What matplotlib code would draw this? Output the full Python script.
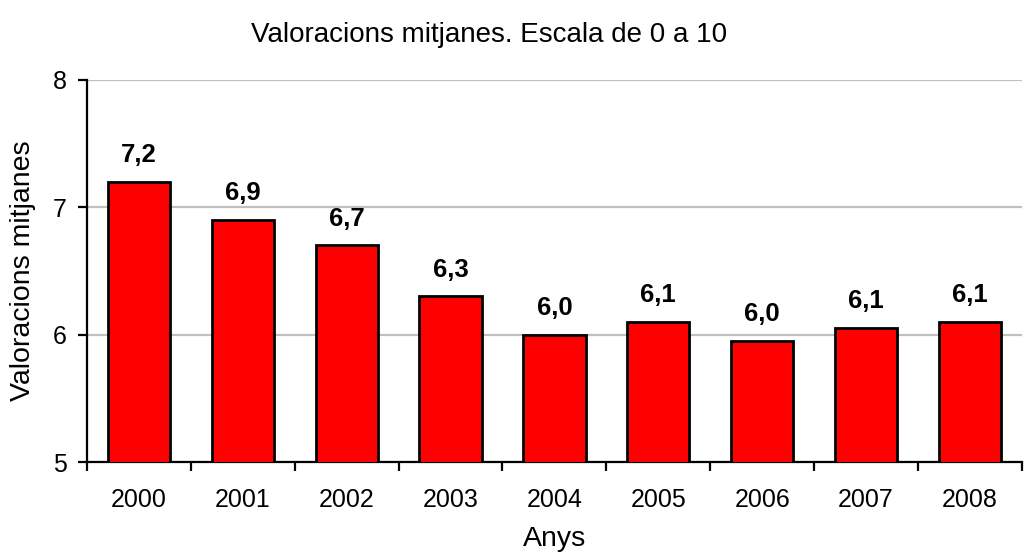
import matplotlib
matplotlib.use("Agg")
import numpy as np
from matplotlib import pyplot as plt

years = ["2000", "2001", "2002", "2003", "2004", "2005", "2006", "2007", "2008"]
values = [7.2, 6.9, 6.7, 6.3, 6.0, 6.1, 5.95, 6.05, 6.1]
labels = ["7,2", "6,9", "6,7", "6,3", "6,0", "6,1", "6,0", "6,1", "6,1"]

plt.rcParams["font.family"] = ["Liberation Sans", "DejaVu Sans"]

fig = plt.figure(figsize=(10.27, 5.58), dpi=100)
ax = fig.add_axes([0.0847, 0.172, 0.9103, 0.685])

x = np.arange(len(years))
ax.bar(x, values, width=0.6, color="#ff0000", edgecolor="black",
       linewidth=2, zorder=3)

for xi, v, lab in zip(x, values, labels):
    ax.text(xi, v + 0.155, lab, ha="center", va="baseline", fontsize=18.5,
            fontweight="bold")

ax.set_ylim(5, 8)
ax.set_xlim(-0.5, len(years) - 0.5)
ax.set_yticks([5, 6, 7, 8])
ax.yaxis.grid(True, color="#c0c0c0", linewidth=1.6, zorder=0)
ax.set_axisbelow(True)

ax.set_xticks(x)
ax.set_xticklabels(years, fontsize=18)
ax.tick_params(axis="x", which="major", length=0, pad=19)
ax.set_xticks(np.arange(len(years) + 1) - 0.5, minor=True)
ax.tick_params(axis="x", which="minor", length=6.5, width=1.6, direction="out")
ax.tick_params(axis="y", labelsize=18, length=6.5, width=1.6, pad=8)

for side in ["top", "right"]:
    ax.spines[side].set_visible(False)
for side in ["left", "bottom"]:
    ax.spines[side].set_linewidth(1.6)

ax.set_ylabel("Valoracions mitjanes", fontsize=20.5, labelpad=12)
ax.set_xlabel("Anys", fontsize=20.5, labelpad=10)
fig.text(0.476, 0.937, "Valoracions mitjanes. Escala de 0 a 10", fontsize=20,
         ha="center", va="center")

fig.savefig("out.png", dpi=100)
